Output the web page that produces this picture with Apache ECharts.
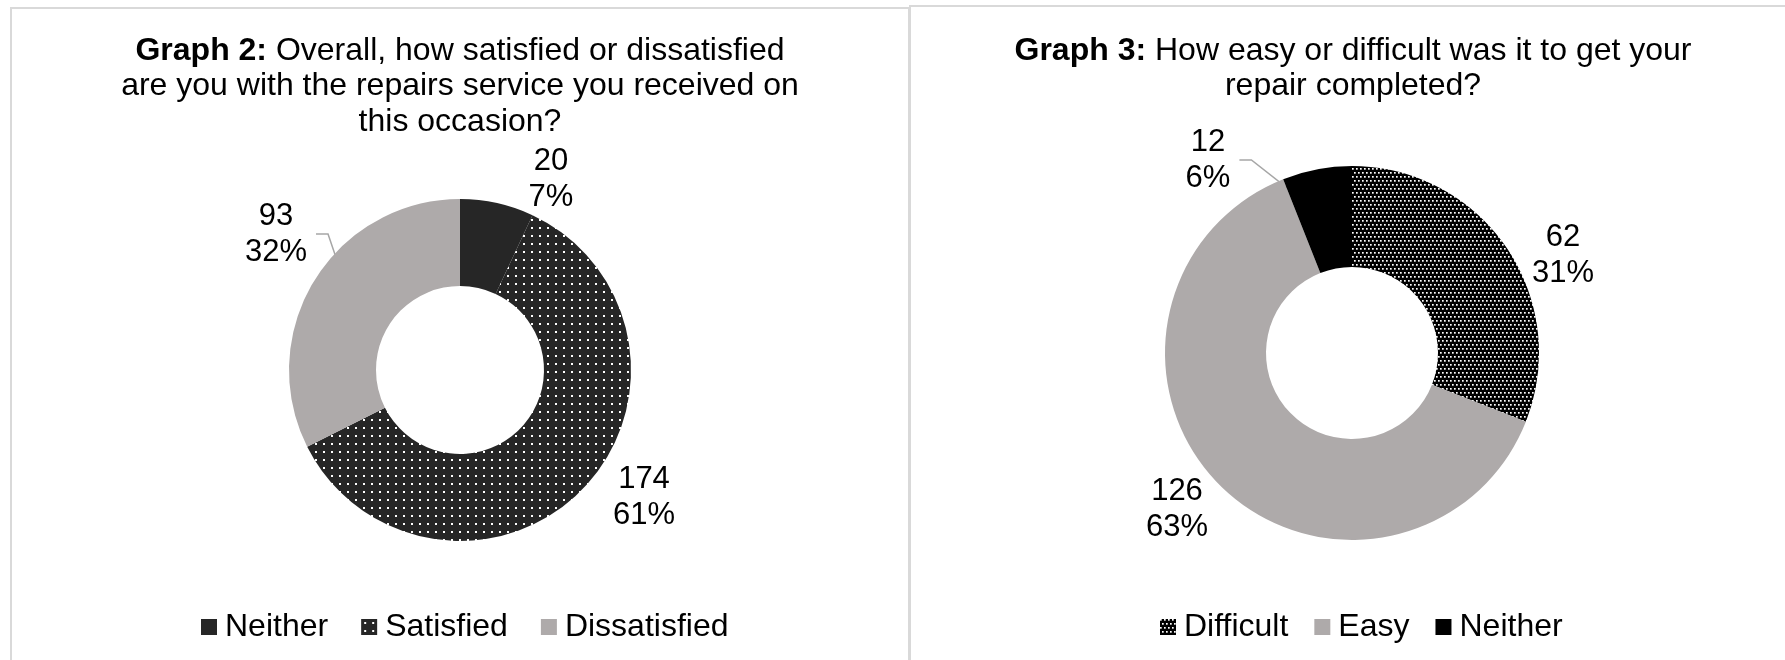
<!DOCTYPE html>
<html>
<head>
<meta charset="utf-8">
<script src="https://cdn.jsdelivr.net/npm/echarts@6/dist/echarts.min.js"></script>
<style>
  html, body { margin: 0; padding: 0; background: #fff; }
  #chart { width: 1785px; height: 660px; }
</style>
</head>
<body>
<div id="chart"></div>
<script>
// Graph 2: satisfaction with the repairs service
const satCategories = ['Neither', 'Satisfied', 'Dissatisfied'];
const satCounts = [20, 174, 93];

// Graph 3: ease of getting the repair completed
const easeCategories = ['Difficult', 'Easy', 'Neither'];
const easeCounts = [62, 126, 12];

const FONT = '"Liberation Sans", Arial, sans-serif';
const GREY = '#aeaaaa';

// White-dot fills drawn on a small tile and repeated
function dotPattern(bg, tile, dots, size) {
  const c = document.createElement('canvas');
  c.width = tile; c.height = tile;
  const g = c.getContext('2d');
  g.fillStyle = bg; g.fillRect(0, 0, tile, tile);
  g.fillStyle = '#ffffff';
  dots.forEach(d => g.fillRect(d[0], d[1], size, size));
  return { image: c, repeat: 'repeat' };
}
const sparseDots = dotPattern('#262626', 8, [[3, 3]], 2);
const denseDots = dotPattern('#000000', 8, [[0, 0], [4, 0], [2, 4], [6, 4]], 1.7);

const satColors = ['#262626', sparseDots, GREY];
const easeColors = [denseDots, GREY, '#000000'];

// Placement of each ring and its value labels
const satLayout = {
  center: [460, 370], radius: [84, 171],
  labels: [[551, 179], [644, 497], [276, 234]],
  leader: [false, false, true]
};
const easeLayout = {
  center: [1352, 353], radius: [86, 187],
  labels: [[1563, 255], [1177, 509], [1208, 160]],
  leader: [false, false, true]
};

function labelPlacer(cfg, values) {
  const total = values.reduce((a, b) => a + b, 0);
  return function (params) {
    const i = params.dataIndex;
    const p = cfg.labels[i];
    const out = { x: p[0], y: p[1], align: 'center', verticalAlign: 'middle' };
    if (cfg.leader[i]) {
      let before = 0;
      for (let k = 0; k < i; k++) before += values[k];
      const ang = 2 * Math.PI * (before + values[i] / 2) / total;
      const r = (cfg.radius[0] + cfg.radius[1]) / 2;
      const ex = cfg.center[0] + r * Math.sin(ang);
      const ey = cfg.center[1] - r * Math.cos(ang);
      const sx = p[0] + params.labelRect.width / 2 + 9;
      out.labelLinePoints = [[ex, ey], [sx + 12, p[1]], [sx, p[1]]];
    }
    return out;
  };
}

function ring(cfg, names, values, colors) {
  return {
    type: 'pie',
    center: cfg.center,
    radius: cfg.radius,
    startAngle: 90,
    clockwise: true,
    avoidLabelOverlap: false,
    silent: true,
    percentPrecision: 0,
    data: names.map((n, i) => ({
      name: n,
      value: values[i],
      itemStyle: { color: colors[i] },
      labelLine: { show: cfg.leader[i] }
    })),
    label: {
      show: true,
      position: 'outside',
      formatter: '{c}\n{d}%',
      fontFamily: FONT,
      fontSize: 31,
      lineHeight: 36,
      color: '#000'
    },
    labelLine: {
      show: false,
      lineStyle: { color: '#a6a6a6', width: 1.5 }
    },
    labelLayout: labelPlacer(cfg, values),
    emphasis: { disabled: true }
  };
}

function legendFor(left, gap, names, colors) {
  return {
    left: left,
    top: 606,
    orient: 'horizontal',
    selectedMode: false,
    icon: 'rect',
    itemWidth: 16,
    itemHeight: 16,
    itemGap: gap,
    textStyle: {
      fontFamily: FONT, fontSize: 32, color: '#000',
      padding: [0, 0, 0, 3]
    },
    data: names.map((n, i) => ({ name: n, itemStyle: { color: colors[i] } }))
  };
}

const titleStyle = {
  fontFamily: FONT, fontSize: 32, lineHeight: 35.5, color: '#000', fontWeight: 'normal',
  rich: {
    b: { fontFamily: FONT, fontSize: 32, lineHeight: 35.5, fontWeight: 'bold', color: '#000' },
    n: { fontFamily: FONT, fontSize: 32, lineHeight: 35.5, color: '#000' }
  }
};

const chart = echarts.init(document.getElementById('chart'), null, { renderer: 'canvas' });

chart.setOption({
  backgroundColor: '#ffffff',
  animation: false,
  title: [
    {
      text: '{b|Graph 2:}{n| Overall, how satisfied or dissatisfied}\n{n|are you with the repairs service you received on}\n{n|this occasion?}',
      left: 460, top: 33, textAlign: 'center', padding: 0,
      textStyle: titleStyle
    },
    {
      text: '{b|Graph 3:}{n| How easy or difficult was it to get your}\n{n|repair completed?}',
      left: 1353, top: 33, textAlign: 'center', padding: 0,
      textStyle: titleStyle
    }
  ],
  graphic: [
    {
      type: 'rect', silent: true, z: -1,
      shape: { x: 11, y: 8, width: 898, height: 720 },
      style: { fill: 'none', stroke: '#d9d9d9', lineWidth: 2 }
    },
    {
      type: 'rect', silent: true, z: -1,
      shape: { x: 910, y: 6, width: 900, height: 720 },
      style: { fill: 'none', stroke: '#d9d9d9', lineWidth: 2 }
    }
  ],
  legend: [
    legendFor(196, 33, satCategories, satColors),
    legendFor(1155, 26, easeCategories, easeColors)
  ],
  series: [
    ring(satLayout, satCategories, satCounts, satColors),
    ring(easeLayout, easeCategories, easeCounts, easeColors)
  ]
});
</script>
</body>
</html>
